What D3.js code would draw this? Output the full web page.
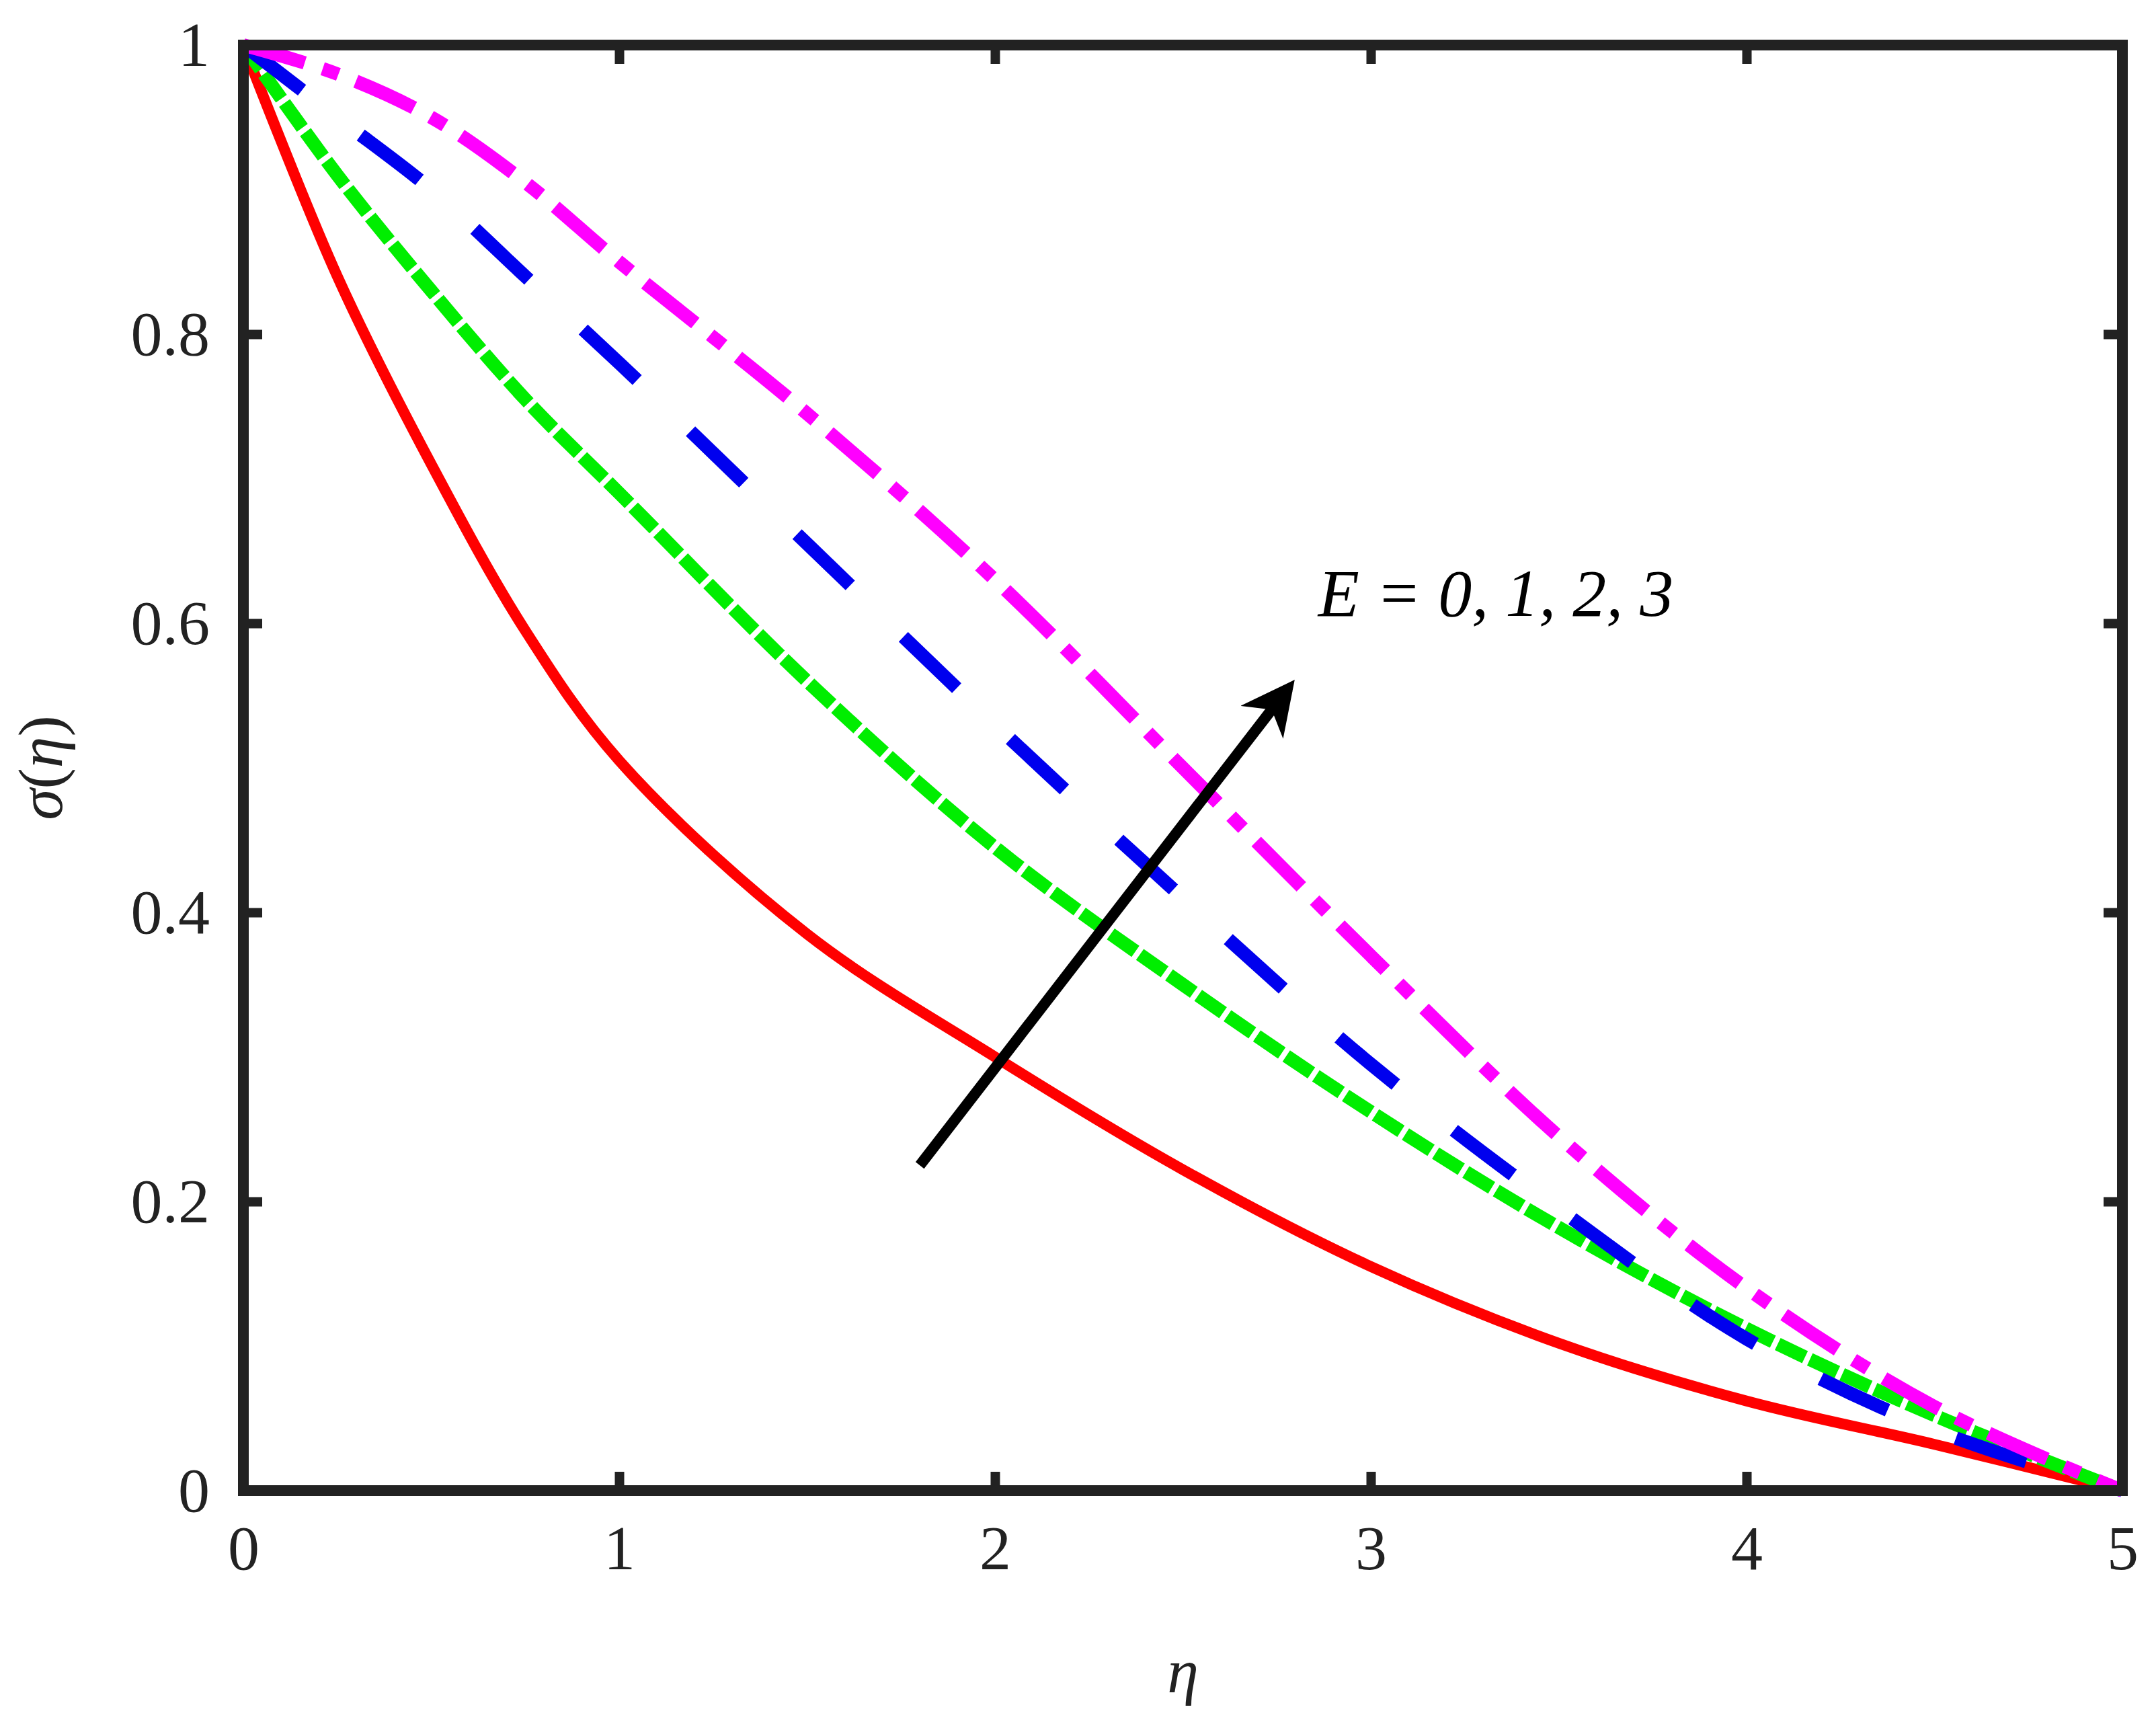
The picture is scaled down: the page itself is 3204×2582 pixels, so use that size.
<!DOCTYPE html>
<html><head><meta charset="utf-8">
<script src="https://cdn.jsdelivr.net/npm/d3@7"></script>
<style>body{margin:0;background:#fff} text{font-family:"Liberation Serif","Times New Roman",serif}</style></head>
<body><div id="chart"></div>
<script>
const etas = [0, 0.25, 0.5, 0.75, 1, 1.5, 2, 2.5, 3, 3.5, 4, 4.5, 5]
const sigmaE0 = [1, 0.84, 0.71, 0.595, 0.505, 0.385, 0.30, 0.222, 0.155, 0.102, 0.062, 0.032, 0]
const sigmaE1 = [1, 0.91, 0.83, 0.755, 0.69, 0.56, 0.445, 0.35, 0.262, 0.182, 0.112, 0.052, 0]
const sigmaE2 = [1, 0.95, 0.90, 0.84, 0.78, 0.655, 0.53, 0.41, 0.295, 0.195, 0.105, 0.042, 0]
const sigmaE3 = [1, 0.98, 0.95, 0.905, 0.85, 0.745, 0.63, 0.50, 0.37, 0.245, 0.14, 0.058, 0]
const xTicks = [0, 1, 2, 3, 4, 5]
const yTicks = [0, 0.2, 0.4, 0.6, 0.8, 1]

const series = [
  { vals: sigmaE0, color: "#ff0000", dash: null, w: 16 },
  { vals: sigmaE1, color: "#00ee00", dash: "45,8", w: 20 },
  { vals: sigmaE2, color: "#0000ee", dash: "110,110", w: 20 },
  { vals: sigmaE3, color: "#ff00ff", dash: "95,28,25,28", w: 20 }
]

let margin = { top: 67, right: 47, bottom: 365, left: 362 },
  width = 3204 - margin.left - margin.right,
  height = 2582 - margin.top - margin.bottom

let svg = d3.select("#chart").append("svg")
  .attr("width", 3204).attr("height", 2582)
  .append("g")
  .attr("transform", "translate(" + margin.left + "," + margin.top + ")")

let x = d3.scaleLinear().domain([0, 5]).range([0, width])
let y = d3.scaleLinear().domain([0, 1]).range([height, 0])

let line = d3.line().curve(d3.curveCatmullRom.alpha(0.5))

series.forEach(s => {
  svg.append("path")
    .attr("d", line(etas.map((e, i) => [x(e), y(s.vals[i])])))
    .attr("fill", "none")
    .attr("stroke", s.color)
    .attr("stroke-width", s.w)
    .attr("stroke-dasharray", s.dash)
})

// arrow
svg.append("defs").append("marker")
  .attr("id", "arr").attr("viewBox", "0 0 10 10").attr("refX", 8).attr("refY", 5)
  .attr("markerWidth", 5).attr("markerHeight", 5).attr("orient", "auto")
  .append("path").attr("d", "M0,0 L10,5 L0,10 L3,5 z").attr("fill", "#000")
svg.append("line")
  .attr("x1", x(1.8)).attr("y1", y(0.225))
  .attr("x2", x(2.78)).attr("y2", y(0.555))
  .attr("stroke", "#000").attr("stroke-width", 16)
  .attr("marker-end", "url(#arr)")

svg.append("text")
  .attr("x", x(2.86)).attr("y", y(0.605))
  .attr("font-style", "italic")
  .attr("font-size", 100)
  .text("E = 0, 1, 2, 3")

// axes with inward ticks on all sides
let fs = 94
let xa = svg.append("g").attr("transform", "translate(0," + height + ")")
  .call(d3.axisBottom(x).tickValues(xTicks).tickSizeInner(-28).tickSizeOuter(0).tickPadding(50).tickFormat(d3.format("d")))
let xt = svg.append("g").call(d3.axisTop(x).tickValues(xTicks).tickSizeInner(-28).tickSizeOuter(0).tickFormat(""))
let ya = svg.append("g")
  .call(d3.axisLeft(y).tickValues(yTicks).tickSizeInner(-28).tickSizeOuter(0).tickPadding(50).tickFormat(d3.format("")))
let yr = svg.append("g").attr("transform", "translate(" + width + ",0)")
  .call(d3.axisRight(y).tickValues(yTicks).tickSizeInner(-28).tickSizeOuter(0).tickFormat(""))
;[xa, xt, ya, yr].forEach(a => {
  a.attr("font-family", null)
  a.select(".domain").remove()
  a.selectAll("line").attr("stroke", "#222").attr("stroke-width", 14)
  a.selectAll("text").attr("font-size", fs).attr("fill", "#222")
})
xa.selectAll("text").attr("dy", "0.71em")

svg.append("rect").attr("width", width).attr("height", height)
  .attr("fill", "none").attr("stroke", "#222").attr("stroke-width", 16)

svg.append("text")
  .attr("x", width / 2).attr("y", height + 300)
  .attr("text-anchor", "middle")
  .attr("font-style", "italic").attr("font-size", 94)
  .attr("fill", "#222")
  .text("η")

svg.append("text")
  .attr("transform", "rotate(-90)")
  .attr("x", -height / 2).attr("y", -270)
  .attr("text-anchor", "middle")
  .attr("font-size", 94).attr("fill", "#222")
  .html('<tspan font-style="italic">σ</tspan>(<tspan font-style="italic">η</tspan>)')
</script>
</body></html>
